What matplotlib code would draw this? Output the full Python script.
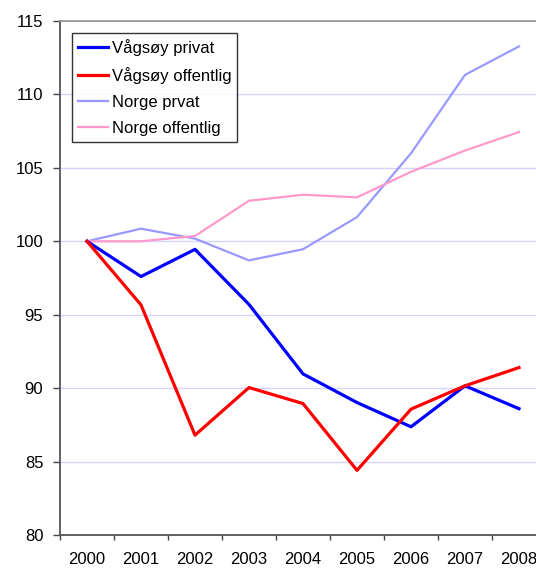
import matplotlib
matplotlib.use("Agg")
import matplotlib.pyplot as plt

years = ["2000", "2001", "2002", "2003", "2004", "2005", "2006", "2007", "2008"]

vagsoy_privat = [100.0, 97.6, 99.45, 95.7, 90.97, 89.02, 87.37, 90.16, 88.6]
vagsoy_offentlig = [100.0, 95.67, 86.8, 90.04, 88.95, 84.4, 88.57, 90.16, 91.4]
norge_prvat = [100.0, 100.86, 100.18, 98.7, 99.46, 101.65, 105.99, 111.33, 113.27]
norge_offentlig = [100.0, 100.0, 100.36, 102.76, 103.17, 102.99, 104.73, 106.18, 107.44]

series_labels = ["Vågsøy privat", "Vågsøy offentlig", "Norge prvat", "Norge offentlig"]

plt.rcParams["font.family"] = ["Liberation Sans", "DejaVu Sans"]

fig = plt.figure(figsize=(5.36, 5.69), dpi=100)
ax = fig.add_axes([60 / 536, 1 - 535 / 569, 486 / 536, 514 / 569])

x = list(range(len(years)))
ax.plot(x, vagsoy_privat, color="#0000ff", lw=2.3, label=series_labels[0], zorder=4)
ax.plot(x, vagsoy_offentlig, color="#ff0000", lw=2.3, label=series_labels[1], zorder=4)
ax.plot(x, norge_prvat, color="#9999ff", lw=1.6, label=series_labels[2], zorder=3)
ax.plot(x, norge_offentlig, color="#ff99cc", lw=1.6, label=series_labels[3], zorder=3)

ax.set_xlim(-0.5, len(years) - 0.5)
ax.set_ylim(80, 115)
ax.set_yticks(range(80, 116, 5))
ax.yaxis.grid(True, color="#d4d4ff", lw=1)
ax.set_axisbelow(True)

# categories labelled at centres, ticks at boundaries
ax.set_xticks(x)
ax.set_xticklabels(years)
ax.set_xticks([i - 0.5 for i in range(len(years) + 1)], minor=True)
ax.tick_params(axis="x", which="major", length=0, pad=12, labelsize=12)
ax.tick_params(axis="x", which="minor", length=3.6, width=1, color="#444444")
ax.tick_params(axis="y", length=5, width=1, color="#444444", pad=7, labelsize=12)

for side in ("left", "bottom"):
    ax.spines[side].set_color("#555555")
    ax.spines[side].set_linewidth(1.3)
ax.spines["top"].set_color("#999999")
ax.spines["top"].set_linewidth(1.3)
ax.spines["right"].set_visible(False)

leg = ax.legend(
    loc="upper left",
    bbox_to_anchor=(72 / 536, 1 - 33 / 569),
    bbox_transform=fig.transFigure,
    fontsize=12,
    frameon=True,
    fancybox=False,
    handlelength=1.8,
    handletextpad=0.25,
    labelspacing=0.67,
    borderpad=0.35,
    borderaxespad=0,
)
leg.get_frame().set_edgecolor("black")
leg.get_frame().set_linewidth(1)

fig.savefig("out.png", dpi=100)
